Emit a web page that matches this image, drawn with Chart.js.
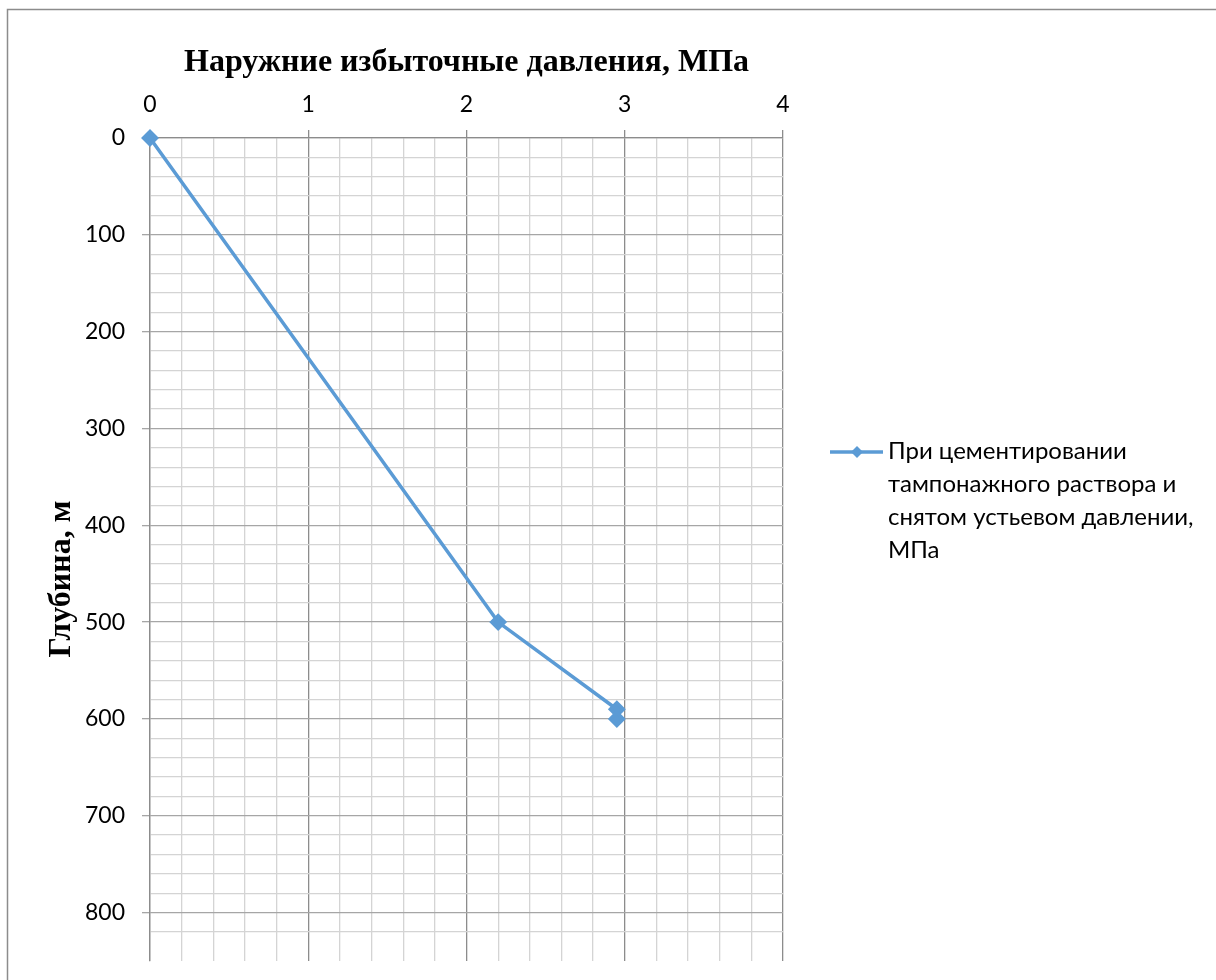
<!DOCTYPE html>
<html>
<head>
<meta charset="utf-8">
<script src="https://cdn.jsdelivr.net/npm/chart.js@4.4.1/dist/chart.umd.min.js"></script>
<style>
  html, body { margin: 0; background: #fff; }
  #wrap { width: 1216px; height: 980px; position: relative; }
</style>
</head>
<body>
<div id="wrap"><canvas id="depthChart"></canvas></div>
<script>
/******* data *******/
var pressure = [0, 2.2, 2.95, 2.95];      // МПа
var depth = [0, 500, 590, 600];            // м
var legendLines = ['При цементировании', 'тампонажного раствора и', 'снятом устьевом давлении,', 'МПа'];
var xTitle = 'Наружние избыточные давления, МПа';
var yTitle = 'Глубина, м';

var lineColor = '#5B9BD5';
var sansFont = 'Lato, "Open Sans", sans-serif';
var serifFont = '"Liberation Serif", "DejaVu Serif", serif';

function isWhole(v, step) {
  var r = v / step;
  return Math.abs(r - Math.round(r)) < 1e-6;
}

// outer frame of the chart object + the vertical axis title
var framePlugin = {
  id: 'frame',
  beforeDraw: function (chart) {
    var c = chart.ctx;
    c.save();
    c.fillStyle = '#fff';
    c.fillRect(0, 0, chart.width, chart.height);
    c.strokeStyle = '#8C8C8C';
    c.lineWidth = 1.5;
    c.strokeRect(7.5, 9.5, chart.width + 20, chart.height + 20);
    c.restore();
  },
  afterDraw: function (chart) {
    var c = chart.ctx;
    c.save();
    c.translate(62, 579);
    c.rotate(-Math.PI / 2);
    c.fillStyle = '#000';
    c.font = 'bold 32px ' + serifFont;
    c.textAlign = 'center';
    c.textBaseline = 'middle';
    c.fillText(yTitle, 0, 0);
    c.restore();
  }
};

// legend on the right, wrapped on several lines like Excel does
var sideLegend = {
  id: 'sideLegend',
  afterDraw: function (chart) {
    var c = chart.ctx;
    var y0 = 451;
    c.save();
    c.strokeStyle = lineColor;
    c.lineWidth = 3.5;
    c.beginPath();
    c.moveTo(830, y0 + 1);
    c.lineTo(883, y0 + 1);
    c.stroke();
    c.fillStyle = lineColor;
    c.beginPath();
    c.moveTo(857, y0 + 1 - 6);
    c.lineTo(863, y0 + 1);
    c.lineTo(857, y0 + 1 + 6);
    c.lineTo(851, y0 + 1);
    c.closePath();
    c.fill();
    c.fillStyle = '#000';
    c.font = '24px ' + sansFont;
    c.textBaseline = 'middle';
    legendLines.forEach(function (t, i) {
      c.fillText(t, 888, y0 + i * 33);
    });
    c.restore();
  }
};

var ctx = document.getElementById('depthChart');
var depthChart = new Chart(ctx, {
  type: 'scatter',
  data: {
    datasets: [{
      label: legendLines.join(' '),
      data: pressure.map(function (p, i) { return { x: p, y: depth[i] }; }),
      showLine: true,
      borderColor: lineColor,
      backgroundColor: lineColor,
      borderWidth: 3.5,
      pointStyle: 'rectRot',
      pointRadius: 6.5,
      pointHoverRadius: 6.5,
      clip: false
    }]
  },
  options: {
    responsive: true,
    maintainAspectRatio: false,
    animation: false,
    layout: { padding: { top: 9, left: 0, right: 433, bottom: 19 } },
    plugins: { legend: { display: false }, tooltip: { enabled: false } },
    scales: {
      x: {
        type: 'linear',
        position: 'top',
        min: 0,
        max: 4,
        afterFit: function (s) {
          s.height = 129;
          s.paddingLeft = 0;
          s.paddingRight = 0;
        },
        ticks: {
          stepSize: 0.2,
          autoSkip: false,
          maxRotation: 0,
          padding: 12,
          color: '#000',
          font: { family: sansFont, size: 23 },
          callback: function (v) { return isWhole(v, 1) ? String(Math.round(v)) : ''; }
        },
        grid: {
          color: function (c) { return isWhole(c.tick.value, 1) ? '#8C8C8C' : '#D4D4D4'; },
          tickColor: function (c) { return isWhole(c.tick.value, 1) ? '#8C8C8C' : 'rgba(0,0,0,0)'; },
          tickLength: 8,
          lineWidth: 1.3
        },
        border: { color: '#8C8C8C', width: 1.3 },
        title: {
          display: true,
          text: xTitle,
          color: '#000',
          font: { family: serifFont, size: 32, weight: 'bold' },
          padding: { top: 35, bottom: 0 }
        }
      },
      y: {
        type: 'linear',
        reverse: true,
        min: 0,
        max: 850,
        afterFit: function (s) {
          s.width = 150;
          s.paddingTop = 0;
          s.paddingBottom = 0;
        },
        afterBuildTicks: function (s) {
          s.ticks = s.ticks.filter(function (t) { return isWhole(t.value, 20); });
        },
        ticks: {
          stepSize: 20,
          autoSkip: false,
          padding: 17,
          color: '#000',
          font: { family: sansFont, size: 23 },
          callback: function (v) { return isWhole(v, 100) ? String(v) : ''; }
        },
        grid: {
          color: function (c) { return isWhole(c.tick.value, 100) ? '#A6A6A6' : '#D4D4D4'; },
          tickColor: function (c) { return isWhole(c.tick.value, 100) ? '#A6A6A6' : 'rgba(0,0,0,0)'; },
          tickLength: 8,
          lineWidth: 1.3
        },
        border: { color: '#8C8C8C', width: 1.3 },
        title: { display: false }
      }
    }
  },
  plugins: [framePlugin, sideLegend]
});
</script>
</body>
</html>
